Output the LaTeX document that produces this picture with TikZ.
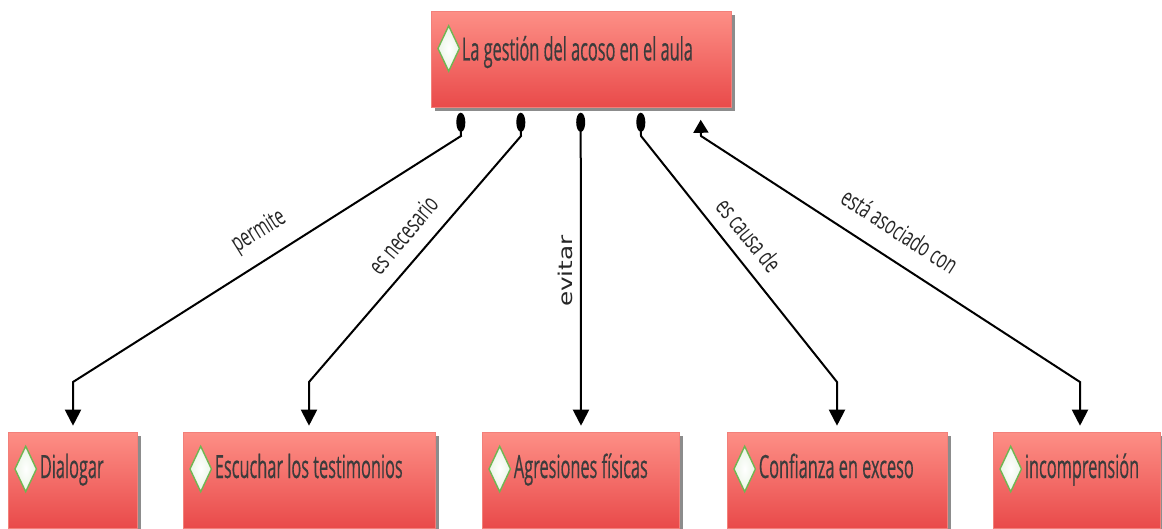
\documentclass[tikz,border=0pt]{standalone}
\usepackage{fontspec}
\newfontfamily\condfont{Open Sans}[FakeStretch=0.51,FakeBold=0.4]
\newfontfamily\labfont{Open Sans}[FakeStretch=0.64]
\newfontfamily\evfont{DejaVu Sans}[FakeStretch=1.3]
\usetikzlibrary{shapes.geometric,shadows,arrows.meta,calc}
\definecolor{boxtop}{RGB}{253,143,134}
\definecolor{boxbot}{RGB}{233,74,74}
\definecolor{boxedge}{RGB}{242,128,122}
\definecolor{txtgray}{RGB}{60,60,60}
\definecolor{diagreen}{RGB}{112,182,82}
\tikzset{
  box/.style={rectangle, draw=boxedge, line width=0.6pt, top color=boxtop, bottom color=boxbot,
    drop shadow={shadow xshift=4pt, shadow yshift=-4pt, fill=black, opacity=0.45},
    inner sep=0pt, minimum height=96pt},
  dia/.style={diamond, draw=diagreen, line width=1.4pt, inner color=white, outer color=white!85!diagreen,
    minimum width=22pt, minimum height=46pt, inner sep=0pt},
  boxtext/.style={anchor=base west, inner sep=0pt, text=txtgray, font=\condfont\fontsize{32}{36}\selectfont},
  lab/.style={inner sep=0pt, text=black!85, font=\labfont\fontsize{25}{28}\selectfont},
  conn/.style={line width=2pt, black, line join=miter},
  dotstart/.style={{Ellipse[length=19pt,width=9pt]}-{Triangle[length=16pt,width=16pt]}},
  bothtips/.style={{Triangle[length=13pt,width=15pt]}-{Triangle[length=16pt,width=16pt]}}
}
\begin{document}
\begin{tikzpicture}[x=1pt,y=-1pt]
\useasboundingbox (0,0) rectangle (1162,529);

% boxes
\node[box, minimum width=300pt] (top) at (581,59.5) {};
\node[box, minimum width=129pt] (b1) at (72.5,480) {};
\node[box, minimum width=252pt] (b2) at (309,480) {};
\node[box, minimum width=197pt] (b3) at (580.5,480) {};
\node[box, minimum width=220pt] (b4) at (837,480) {};
\node[box, minimum width=167pt] (b5) at (1076.5,480) {};

% icons and texts
\node[dia] (dt) at ($(top.west)+(18,-11)$) {};
\node[boxtext] (tt) at ($(top.west)+(31,1)$) {La gestión del acoso en el aula};
\node[dia] (d1) at ($(b1.west)+(18,-11)$) {};
\node[boxtext] (t1) at ($(b1.west)+(32,-2)$) {Dialogar};
\node[dia] (d2) at ($(b2.west)+(18,-11)$) {};
\node[boxtext] (t2) at ($(b2.west)+(32,-2)$) {Escuchar los testimonios};
\node[dia] (d3) at ($(b3.west)+(18,-11)$) {};
\node[boxtext] (t3) at ($(b3.west)+(32,-2)$) {Agresiones físicas};
\node[dia] (d4) at ($(b4.west)+(18,-11)$) {};
\node[boxtext] (t4) at ($(b4.west)+(32,-2)$) {Confianza en exceso};
\node[dia] (d5) at ($(b5.west)+(18,-11)$) {};
\node[boxtext] (t5) at ($(b5.west)+(32,-2)$) {incomprensión};

% connector bends
\coordinate (k1a) at (461,136); \coordinate (k1b) at (73,382);
\coordinate (k2a) at (521,136); \coordinate (k2b) at (309,382);
\coordinate (k3) at (581,136);
\coordinate (k4a) at (641,136); \coordinate (k4b) at (837,382);
\coordinate (k5a) at (701,136); \coordinate (k5b) at (1080,382);

\draw[conn, dotstart] ([xshift=30pt,yshift=-5pt]top.south west) -- (k1a) -- (k1b) -- ([yshift=6pt]b1.north -| k1b);
\draw[conn, dotstart] ([xshift=90pt,yshift=-5pt]top.south west) -- (k2a) -- (k2b) -- ([yshift=6pt]b2.north -| k2b);
\draw[conn, dotstart] ([xshift=150pt,yshift=-5pt]top.south west) -- ([yshift=6pt]b3.north -| k3);
\draw[conn, dotstart] ([xshift=210pt,yshift=-5pt]top.south west) -- (k4a) -- (k4b) -- ([yshift=6pt]b4.north -| k4b);
\draw[conn, bothtips] ([xshift=270pt,yshift=-12pt]top.south west) -- (k5a) -- (k5b) -- ([yshift=6pt]b5.north -| k5b);

% labels
\node[lab, rotate=32] (l1) at (259,232) {permite};
\node[lab, rotate=50] (l2) at (403,235) {es necesario};
\node[lab, rotate=90, font=\evfont\fontsize{19}{22}\selectfont] (l3) at (565,271) {evitar};
\node[lab, rotate=-51] (l4) at (749,235) {es causa de};
\node[lab, rotate=-33] (l5) at (900,231) {está asociado con};
\end{tikzpicture}
\end{document}
